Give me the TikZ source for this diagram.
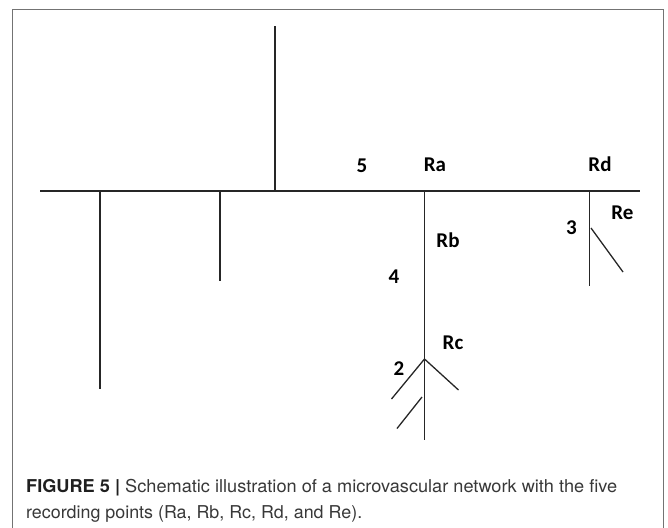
\documentclass[tikz,border=0pt]{standalone}
\usepackage{xcolor}
\usepackage{graphicx}
\usepackage{fontspec}
\usepackage{tikz}
\usetikzlibrary{positioning}
\newfontfamily\lblfont{Carlito}
\newfontfamily\capfont{TeX Gyre Heros}

\begin{document}
\begin{tikzpicture}[x=1pt, y=-1pt]
\tikzstyle{vessel} = [line width=1.3pt, black!85]
\tikzstyle{lbl} = [inner sep=0pt, font=\lblfont\fontsize{21}{24}\selectfont\bfseries]
\tikzstyle{captxt} = [inner sep=0pt, anchor=base west, text=black!78, font=\capfont\fontsize{17.7}{21}\selectfont]

\useasboundingbox (0,0) rectangle (668,527);
\clip (0,0) rectangle (668,527);
\draw[black!55, line width=1pt] (12,10) rectangle (663,560);

% junctions on the main vessel
\coordinate (west) at (40,191);
\coordinate (east) at (640,191);
\coordinate (j1) at (100,191);
\coordinate (j2) at (220,191);
\coordinate (j3) at (275,191);
\coordinate (ja) at (424.5,190);
\coordinate (jd) at (589.5,191);

% vessel ends
\coordinate (e1) at (100,389);
\coordinate (e2) at (220,281);
\coordinate (e3) at (275,26);
\coordinate (ea) at (424.5,440);
\coordinate (ed) at (589.5,286);
\coordinate (re0) at (591,228);
\coordinate (re1) at (623,272);
\coordinate (jc) at (424.5,359);
\coordinate (c1) at (391.5,399);
\coordinate (c2) at (458.5,390);
\coordinate (k0) at (422,397);
\coordinate (k1) at (397,428.5);

\draw[vessel] (west) -- (east);
\draw[vessel] (j1) -- (e1);
\draw[vessel] (j2) -- (e2);
\draw[vessel] (j3) -- (e3);
\draw[vessel] (ja) -- (ea);
\draw[vessel] (jd) -- (ed);
\draw[vessel] (re0) -- (re1);
\draw[vessel] (c1) -- (jc) -- (c2);
\draw[vessel] (k0) -- (k1);

% recording points
\node (n5) [lbl] at (362,165.5) {5};
\node (ra) [lbl] at (435,165) {Ra};
\node (rd) [lbl] at (600,164) {Rd};
\node (re) [lbl] at (622.5,213) {Re};
\node (n3) [lbl] at (571.5,228) {3};
\node (rb) [lbl] at (448,240) {Rb};
\node (n4) [lbl] at (394,277) {4};
\node (rc) [lbl] at (453,343) {Rc};
\node (n2) [lbl] at (399,369) {2};

% caption
\node (cap1) [captxt] at (26,492) {\resizebox{591pt}{\height}{\textbf{\color{black!88}FIGURE 5 |} Schematic illustration of a microvascular network with the five}};
\node (cap2) [captxt] at (26,518) {\resizebox{336pt}{\height}{recording points (Ra, Rb, Rc, Rd, and Re).}};
\end{tikzpicture}
\end{document}
